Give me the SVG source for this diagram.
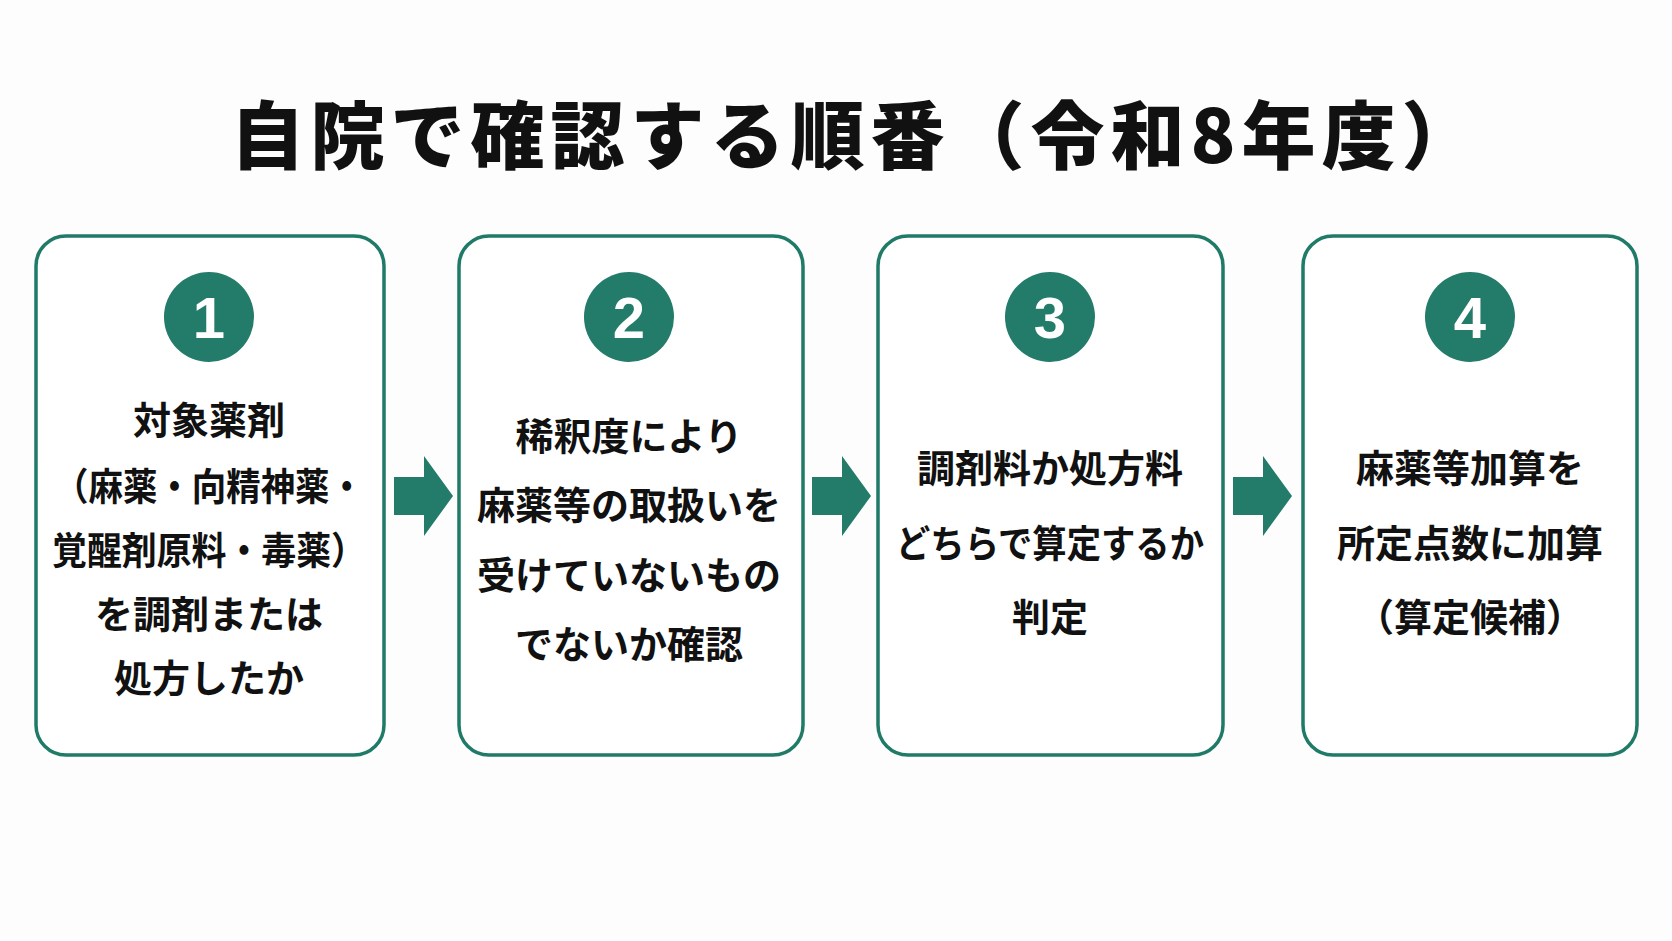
<svg xmlns="http://www.w3.org/2000/svg" width="1672" height="941" viewBox="0 0 1672 941">
<style>
.box{fill:#fff;stroke:#1f7a68;stroke-width:3.5}
.num{fill:#237b69}
.n{font-family:"Liberation Sans",Arial,sans-serif;font-weight:bold;font-size:58px;fill:#fff;text-anchor:middle}
.t{font-family:"Noto Sans CJK JP","Noto Sans",sans-serif;font-weight:bold;font-size:38px;fill:#111;text-anchor:middle}
.h{font-family:"Noto Sans CJK JP","Noto Sans",sans-serif;font-weight:900;font-size:74px;fill:#111;text-anchor:middle;letter-spacing:6px}
.arr{fill:#237b69}
</style>
<rect width="1672" height="941" fill="#fdfdfd"/>
<text class="h" x="856" y="163">自院で確認する順番（令和8年度）</text>
<g id="step1">
<rect class="box" x="36" y="236" width="348" height="519" rx="30"/>
<circle class="num" cx="209" cy="317" r="45"/><text class="n" x="209" y="338">1</text>
<text class="t" x="209" y="434">対象薬剤</text>
<text class="t" x="209" y="500" textLength="310" lengthAdjust="spacingAndGlyphs">（麻薬・向精神薬・</text>
<text class="t" x="209" y="564" textLength="314" lengthAdjust="spacingAndGlyphs">覚醒剤原料・毒薬）</text>
<text class="t" x="209" y="628">を調剤または</text>
<text class="t" x="209" y="692">処方したか</text>
</g>
<g id="step2">
<rect class="box" x="459" y="236" width="344" height="519" rx="30"/>
<circle class="num" cx="629" cy="317" r="45"/><text class="n" x="629" y="338">2</text>
<text class="t" x="629" y="450">稀釈度により</text>
<text class="t" x="629" y="519">麻薬等の取扱いを</text>
<text class="t" x="629" y="589">受けていないもの</text>
<text class="t" x="629" y="658">でないか確認</text>
</g>
<g id="step3">
<rect class="box" x="878" y="236" width="345" height="519" rx="30"/>
<circle class="num" cx="1050" cy="317" r="45"/><text class="n" x="1050" y="338">3</text>
<text class="t" x="1050" y="482">調剤料か処方料</text>
<text class="t" x="1050" y="557" textLength="308" lengthAdjust="spacingAndGlyphs">どちらで算定するか</text>
<text class="t" x="1050" y="631">判定</text>
</g>
<g id="step4">
<rect class="box" x="1303" y="236" width="334" height="519" rx="30"/>
<circle class="num" cx="1470" cy="317" r="45"/><text class="n" x="1470" y="338">4</text>
<text class="t" x="1470" y="482">麻薬等加算を</text>
<text class="t" x="1470" y="557">所定点数に加算</text>
<text class="t" x="1470" y="631">（算定候補）</text>
</g>
<g id="connectors">
<polygon class="arr" points="394,477 424,477 424,456 453,496 424,536 424,515 394,515"/>
<polygon class="arr" points="812,477 842,477 842,456 871,496 842,536 842,515 812,515"/>
<polygon class="arr" points="1233,477 1263,477 1263,456 1292,496 1263,536 1263,515 1233,515"/>
</g>
</svg>
